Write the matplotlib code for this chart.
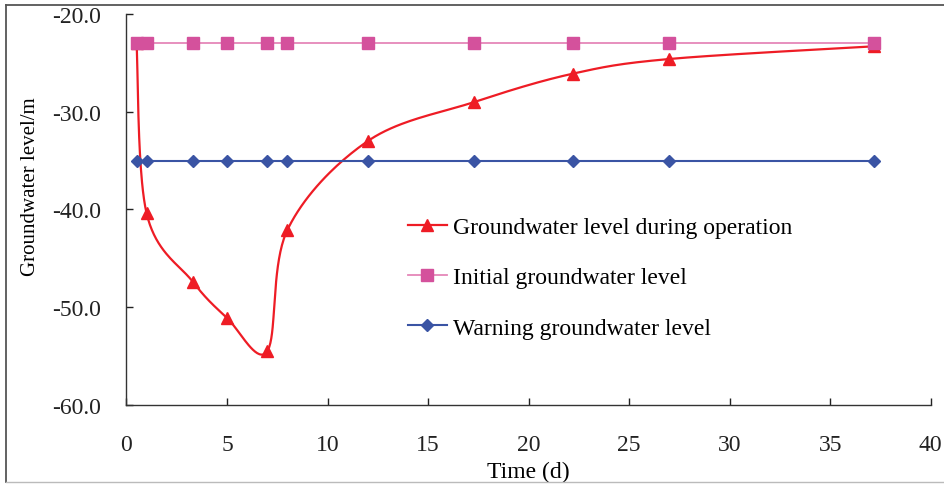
import numpy as np
import matplotlib
matplotlib.use("Agg")
import matplotlib.pyplot as plt
from matplotlib.lines import Line2D
from matplotlib.ticker import FormatStrFormatter

plt.rcParams["font.family"] = ["Liberation Serif", "DejaVu Serif"]

# ---- data ----
time_d = [0.5, 1.0, 3.3, 5.0, 7.0, 8.0, 12.0, 17.3, 22.2, 27.0, 37.2]
level_operation = [-23.0, -40.4, -47.4, -51.1, -54.5, -42.1, -33.0, -29.0, -26.1, -24.6, -23.3]
level_initial = [-23.0] * len(time_d)
level_warning = [-35.0] * len(time_d)

labels = ["Groundwater level during operation", "Initial groundwater level",
          "Warning groundwater level"]

XLIM = (0, 40)
YLIM = (-60, -20)


def smooth(x, y, sx, sy, n=40):
    # Excel-style smoothed line: Catmull-Rom bezier, done in pixel-like space
    px = np.asarray(x) * sx
    py = np.asarray(y) * sy
    pts = np.column_stack([px, py])
    out = []
    for i in range(len(pts) - 1):
        p0 = pts[i - 1] if i > 0 else pts[i]
        p1, p2 = pts[i], pts[i + 1]
        p3 = pts[i + 2] if i + 2 < len(pts) else pts[i + 1]
        c1 = p1 + (p2 - p0) / 6.0
        c2 = p2 - (p3 - p1) / 6.0
        t = np.linspace(0, 1, n)[:, None]
        seg = ((1 - t) ** 3) * p1 + 3 * ((1 - t) ** 2) * t * c1 + 3 * (1 - t) * t ** 2 * c2 + t ** 3 * p2
        out.append(seg if i == 0 else seg[1:])
    out = np.vstack(out)
    return out[:, 0] / sx, out[:, 1] / sy


fig = plt.figure(figsize=(9.44, 4.85), dpi=100)
ax = fig.add_axes([0.134, 0.163, 0.852, 0.806])

red = "#EE1C25"
pink_mk = "#D4519C"
pink_ln = "#E587B9"
blue = "#3A54A4"

# pixels per data unit, so the smoothing matches the drawn aspect
sx = 804 / (XLIM[1] - XLIM[0])
sy = 391 / (YLIM[1] - YLIM[0])
xs, ys = smooth(time_d, level_operation, sx, sy)
ax.plot(xs, ys, color=red, lw=1.6, zorder=2)
ax.plot(time_d, level_operation, ls="none", marker="^", ms=9, color=red, zorder=2)
ax.plot(time_d, level_initial, color=pink_ln, lw=1.3, zorder=3)
ax.plot(time_d, level_initial, ls="none", marker="s", ms=8.5, color=pink_mk, zorder=3)
ax.plot(time_d, level_warning, color=blue, lw=1.5, zorder=4)
ax.plot(time_d, level_warning, ls="none", marker="D", ms=6.5, color=blue, zorder=4)

# legend proxies (line + marker)
h1, = ax.plot([], [], color=red, lw=1.6, marker="^", ms=9)
h2, = ax.plot([], [], color=pink_ln, lw=1.3, marker="s", ms=8.5, mfc=pink_mk, mec=pink_mk)
h3, = ax.plot([], [], color=blue, lw=1.5, marker="D", ms=6.5)
ax.legend([h1, h2, h3], labels, loc="upper left", bbox_to_anchor=(0.35, 0.482),
          frameon=False, fontsize=17, borderpad=0, borderaxespad=0,
          handlelength=1.65, handletextpad=0.25, labelspacing=1.22)

ax.set_xlim(*XLIM)
ax.set_ylim(*YLIM)
ax.set_xticks(np.arange(0, 41, 5))
ax.set_yticks(np.arange(-60, -19, 10))
ax.yaxis.set_major_formatter(FormatStrFormatter("%.1f"))
ax.tick_params(direction="in", length=5, width=1, labelsize=17, colors="#222222")
ax.tick_params(axis="x", pad=21)
ax.tick_params(axis="y", pad=18)
for s in ["top", "right"]:
    ax.spines[s].set_visible(False)
for s in ["left", "bottom"]:
    ax.spines[s].set_color("#333333")
    ax.spines[s].set_linewidth(1.0)

ax.set_xlabel("Time (d)", fontsize=17, labelpad=4)
ax.set_ylabel("Groundwater level/m", fontsize=15)
ax.yaxis.set_label_coords(-0.108, 0.56)

# outer chart frame (top/left dark, bottom light)
fig.add_artist(Line2D([6 / 944, 1], [1 - 6 / 485] * 2, transform=fig.transFigure,
                      color="#555555", lw=1.3))
fig.add_artist(Line2D([6 / 944] * 2, [1 - 6 / 485, 1 - 483 / 485], transform=fig.transFigure,
                      color="#555555", lw=1.3))
fig.add_artist(Line2D([6 / 944, 1], [1 - 483 / 485] * 2, transform=fig.transFigure,
                      color="#BBBBBB", lw=1.0))

fig.savefig("out.png", dpi=100)
